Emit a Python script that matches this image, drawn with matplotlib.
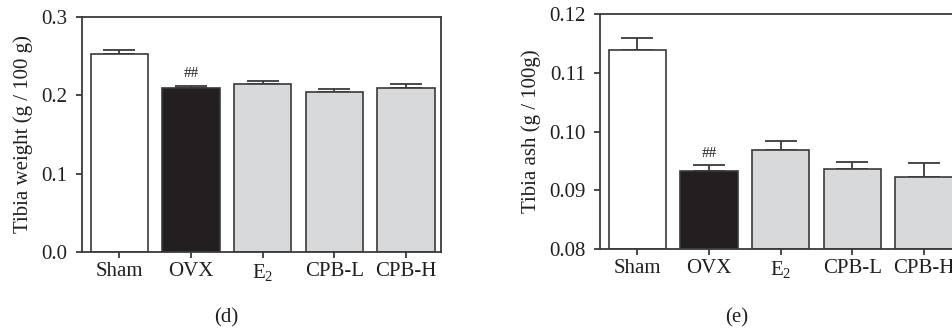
import matplotlib
matplotlib.use('Agg')
import matplotlib.pyplot as plt
from matplotlib.ticker import FormatStrFormatter

plt.rcParams['font.family'] = ['Liberation Serif', 'DejaVu Serif']
plt.rcParams['mathtext.fontset'] = 'custom'
plt.rcParams['mathtext.rm'] = 'Liberation Serif'
plt.rcParams['mathtext.it'] = 'Liberation Serif:italic'

grupos = ['Sham', 'OVX', r'E$_\mathrm{2}$', 'CPB-L', 'CPB-H']

# tibia weight (g / 100 g)
peso = [0.2528, 0.2090, 0.2145, 0.2040, 0.2090]
peso_err = [0.0052, 0.0030, 0.0042, 0.0037, 0.0060]

# tibia ash (g / 100 g)
cinza = [0.1139, 0.09324, 0.0968, 0.09358, 0.09232]
cinza_err = [0.0021, 0.00113, 0.00166, 0.00119, 0.00228]

cores = ['white', '#231f20', '#d8d9db', '#d8d9db', '#d8d9db']
borda = '#3a3a3a'
fs = 15

fig = plt.figure(figsize=(9.53, 3.32), dpi=100)
ax1 = fig.add_axes([0.086, 0.241, 0.3767, 0.7078])
ax2 = fig.add_axes([0.6296, 0.25, 0.3767, 0.707])


def painel(ax, vals, errs, ylim, yticks, fmt, ylabel):
    x = range(len(vals))
    ax.errorbar(x, vals, yerr=[[0] * len(vals), errs], fmt='none',
                ecolor=borda, elinewidth=1.3, capsize=11.5, capthick=1.3,
                zorder=1)
    ax.bar(x, [v - ylim[0] for v in vals], bottom=ylim[0], width=0.8,
           color=cores, edgecolor=borda, linewidth=1.2, zorder=2)
    ax.set_xlim(-0.52, 4.49)
    ax.set_ylim(*ylim)
    ax.set_yticks(yticks)
    ax.yaxis.set_major_formatter(FormatStrFormatter(fmt))
    ax.set_xticks(list(x))
    ax.set_xticklabels(grupos)
    for s in ax.spines.values():
        s.set_color(borda)
        s.set_linewidth(1.3)
    ax.tick_params(axis='both', direction='out', length=4.5, width=1.3,
                   color=borda, labelsize=fs, labelcolor='#231f20')
    ax.tick_params(axis='y', pad=6)
    ax.tick_params(axis='x', pad=3)
    ax.set_ylabel(ylabel, fontsize=fs, color='#231f20', labelpad=6)


painel(ax1, peso, peso_err, (0.0, 0.3), [0.0, 0.1, 0.2, 0.3], '%.1f',
       'Tibia weight (g / 100 g)')
ax1.text(1, peso[1] + peso_err[1] + 0.008, '##', ha='center', va='bottom',
         fontsize=11, color='#231f20')

painel(ax2, cinza, cinza_err, (0.08, 0.12), [0.08, 0.09, 0.10, 0.11, 0.12],
       '%.2f', 'Tibia ash (g / 100g)')
ax2.text(1, cinza[1] + cinza_err[1] + 0.0008, '##', ha='center', va='bottom',
         fontsize=11, color='#231f20')

fig.text(226 / 953, 1 - 318 / 332, '(d)', ha='center', va='center',
         fontsize=fs, color='#231f20')
fig.text(737 / 953, 1 - 318 / 332, '(e)', ha='center', va='center',
         fontsize=fs, color='#231f20')

plt.savefig('out.png', dpi=100)
